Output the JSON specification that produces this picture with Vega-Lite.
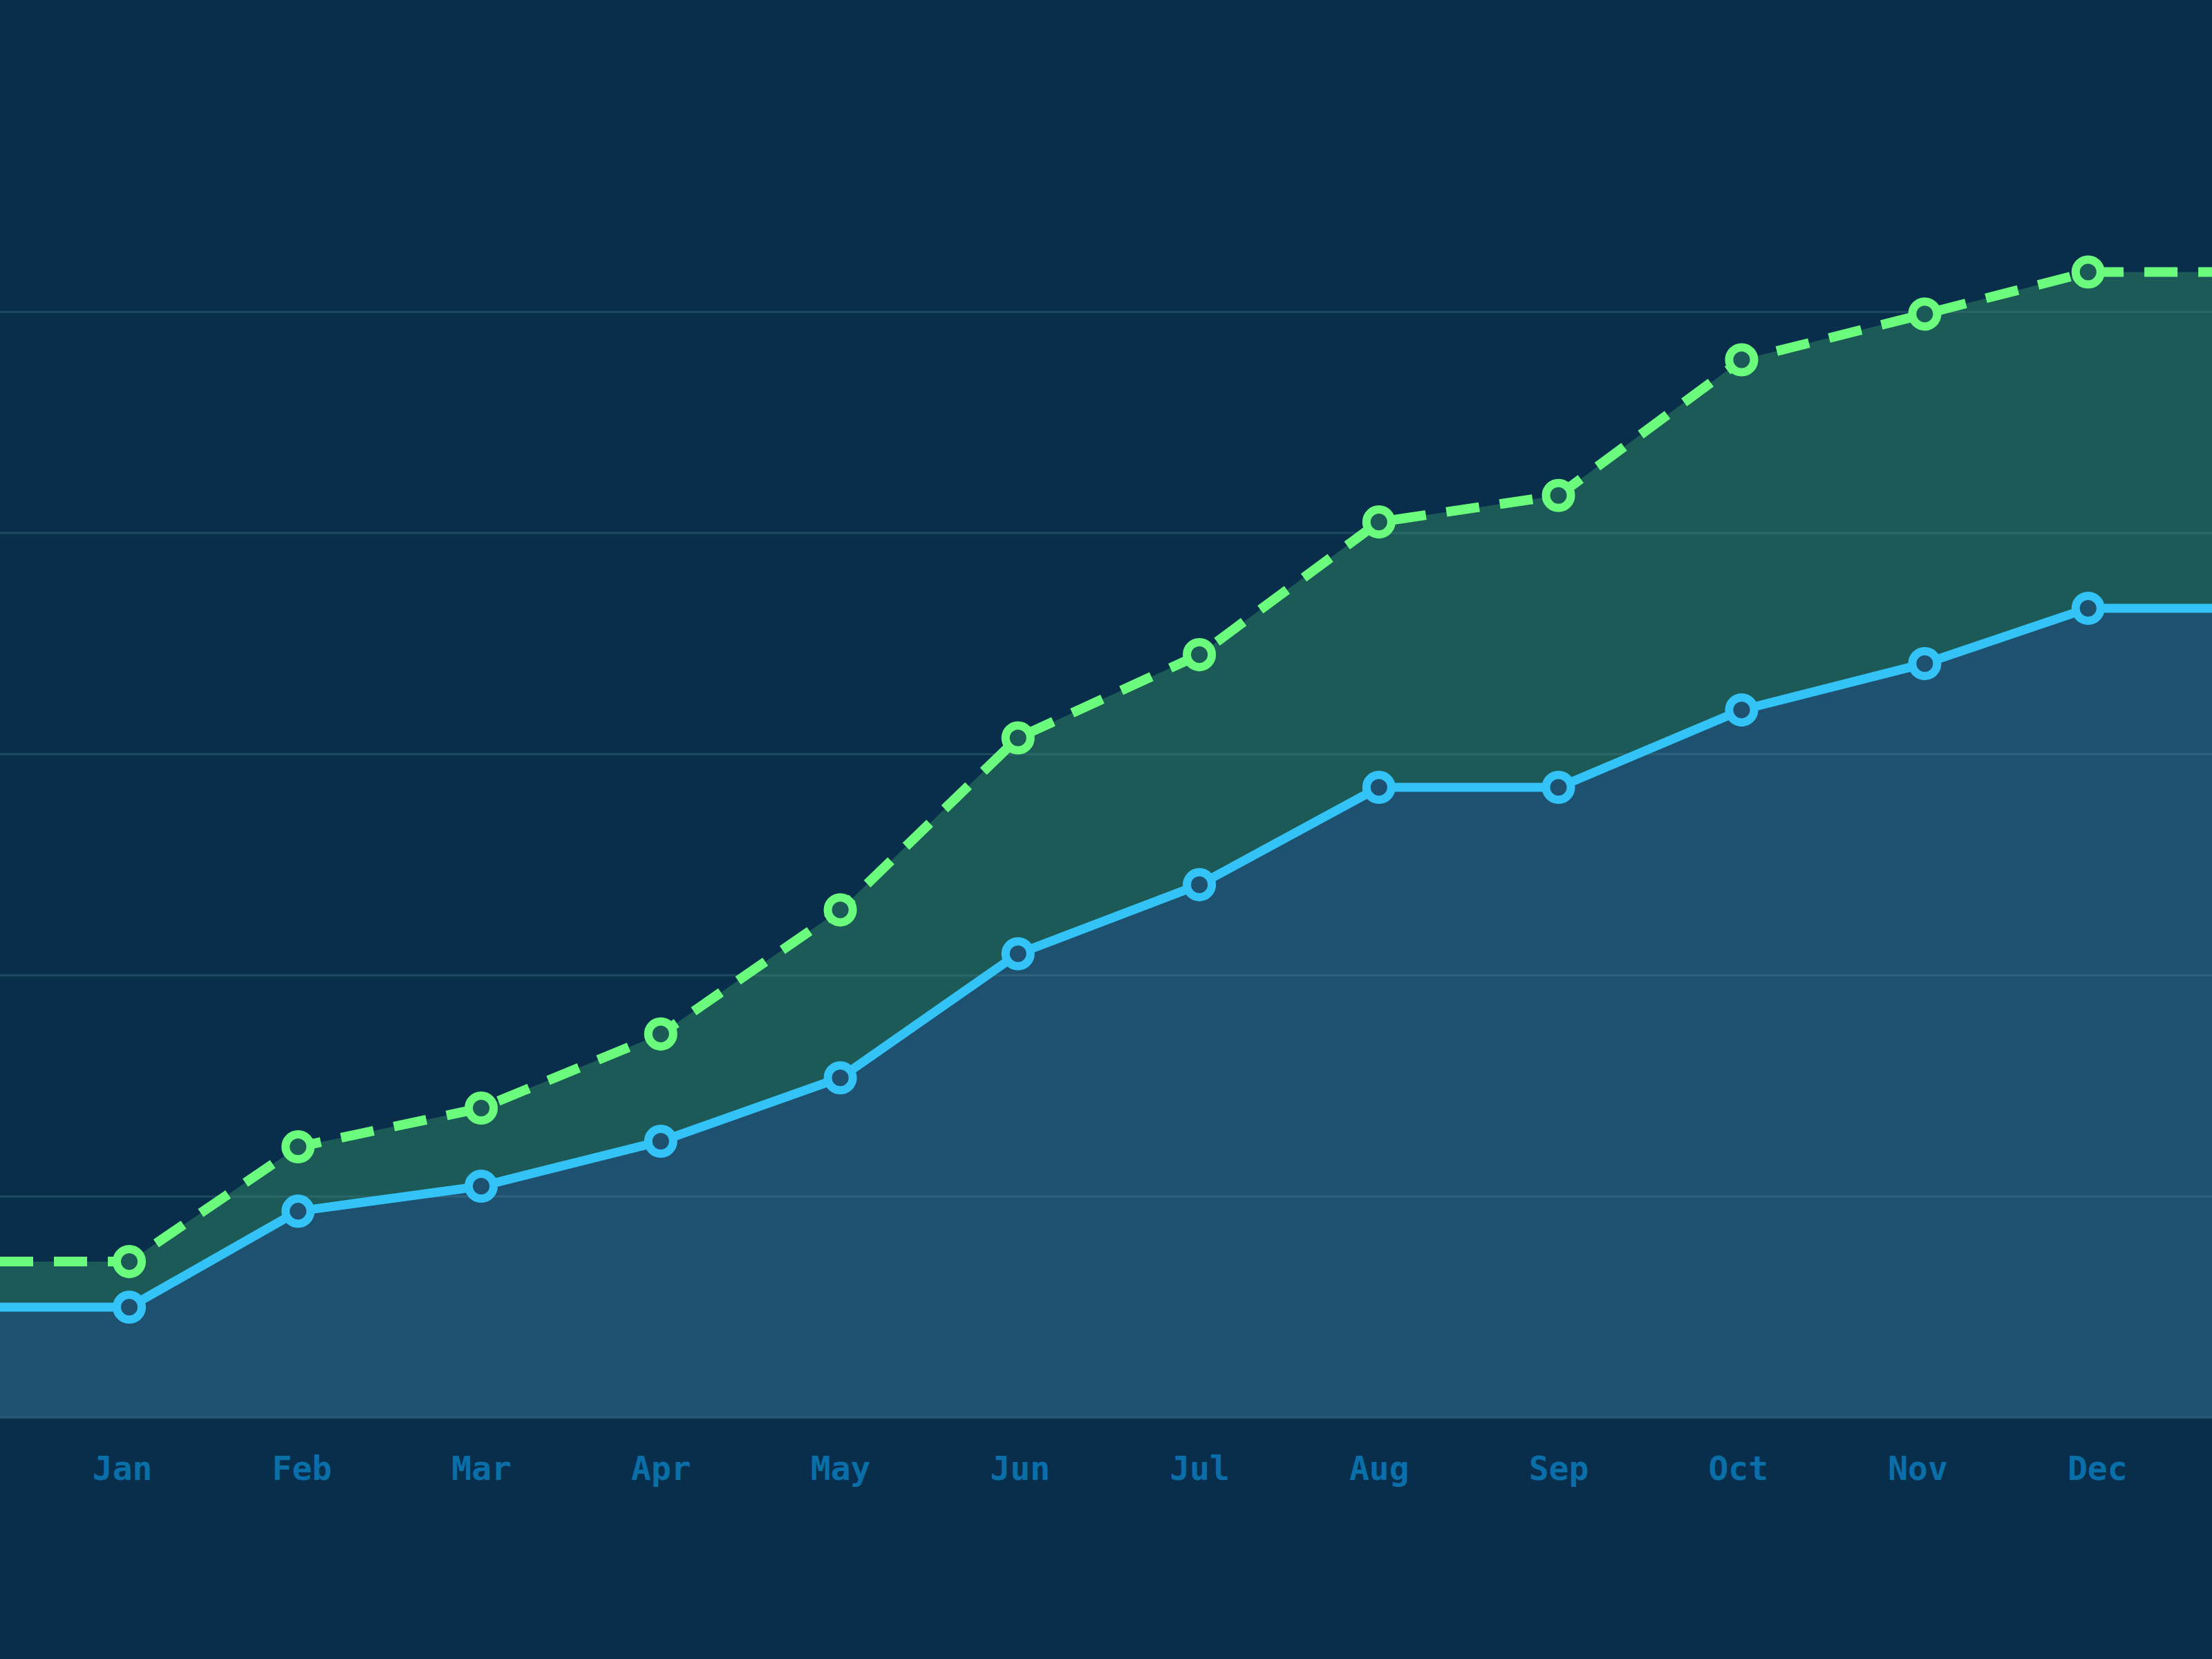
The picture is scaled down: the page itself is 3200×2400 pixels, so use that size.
{
  "$schema": "https://vega.github.io/schema/vega-lite/v6.json",
  "width": 3200,
  "height": 2051,
  "autosize": {"type": "none"},
  "padding": {"left": 0, "top": 0, "right": 0, "bottom": 349},
  "background": "#082e4b",
  "config": {"view": {"stroke": null}, "font": "DejaVu Sans Mono"},
  "datasets": {
    "series": [
      {"m": -0.68, "s": "upper", "v": 7.06, "pt": false},
      {"m": 0.04, "s": "upper", "v": 7.06, "pt": true},
      {"m": 0.98, "s": "upper", "v": 12.25, "pt": true},
      {"m": 2.0, "s": "upper", "v": 14.0, "pt": true},
      {"m": 3.0, "s": "upper", "v": 17.35, "pt": true},
      {"m": 4.0, "s": "upper", "v": 22.96, "pt": true},
      {"m": 4.99, "s": "upper", "v": 30.74, "pt": true},
      {"m": 6.0, "s": "upper", "v": 34.5, "pt": true},
      {"m": 7.0, "s": "upper", "v": 40.5, "pt": true},
      {"m": 8.0, "s": "upper", "v": 41.7, "pt": true},
      {"m": 9.02, "s": "upper", "v": 47.83, "pt": true},
      {"m": 10.04, "s": "upper", "v": 49.9, "pt": true},
      {"m": 10.95, "s": "upper", "v": 51.8, "pt": true},
      {"m": 11.64, "s": "upper", "v": 51.8, "pt": false},
      {"m": -0.68, "s": "lower", "v": 5.0, "pt": false},
      {"m": 0.04, "s": "lower", "v": 5.0, "pt": true},
      {"m": 0.98, "s": "lower", "v": 9.34, "pt": true},
      {"m": 2.0, "s": "lower", "v": 10.47, "pt": true},
      {"m": 3.0, "s": "lower", "v": 12.5, "pt": true},
      {"m": 4.0, "s": "lower", "v": 15.37, "pt": true},
      {"m": 4.99, "s": "lower", "v": 20.98, "pt": true},
      {"m": 6.0, "s": "lower", "v": 24.1, "pt": true},
      {"m": 7.0, "s": "lower", "v": 28.5, "pt": true},
      {"m": 8.0, "s": "lower", "v": 28.5, "pt": true},
      {"m": 9.02, "s": "lower", "v": 32.0, "pt": true},
      {"m": 10.04, "s": "lower", "v": 34.1, "pt": true},
      {"m": 10.95, "s": "lower", "v": 36.6, "pt": true},
      {"m": 11.64, "s": "lower", "v": 36.6, "pt": false}
    ],
    "grid": [{"g": 0}, {"g": 10}, {"g": 20}, {"g": 30}, {"g": 40}, {"g": 50}]
  },
  "layer": [
    {
      "data": {"name": "series"},
      "encoding": {
        "x": {"field": "m", "type": "quantitative", "scale": {"domain": [-0.68, 11.64], "nice": false, "zero": false},
          "axis": {"values": [0,1,2,3,4,5,6,7,8,9,10,11], "labelExpr": "['Jan','Feb','Mar','Apr','May','Jun','Jul','Aug','Sep','Oct','Nov','Dec'][datum.value]", "grid": false, "domain": false, "ticks": false, "tickSize": 0, "labelPadding": 51, "labelFontSize": 48, "labelColor": "#0a6fa8", "labelFont": "DejaVu Sans Mono", "labelFontWeight": "bold", "title": null, "labelOverlap": false, "labelFlush": false}},
        "y": {"field": "v", "type": "quantitative", "scale": {"domain": [0, 64.1], "nice": false}, "axis": null}
      },
      "layer": [
        {"transform": [{"filter": "datum.s === 'upper'"}], "mark": {"type": "area", "color": "#1b5a56", "opacity": 1}},
        {"transform": [{"filter": "datum.s === 'lower'"}], "mark": {"type": "area", "color": "#1e5170", "opacity": 1}}
      ]
    },
    {
      "data": {"name": "grid"},
      "mark": {"type": "rule", "color": "#4a8090", "opacity": 0.35, "strokeWidth": 3},
      "encoding": {"y": {"field": "g", "type": "quantitative", "scale": {"domain": [0, 64.1], "nice": false}, "axis": null}}
    },
    {
      "data": {"name": "series"},
      "encoding": {
        "x": {"field": "m", "type": "quantitative", "scale": {"domain": [-0.68, 11.64], "nice": false, "zero": false},
          "axis": {"values": [0,1,2,3,4,5,6,7,8,9,10,11], "labelExpr": "['Jan','Feb','Mar','Apr','May','Jun','Jul','Aug','Sep','Oct','Nov','Dec'][datum.value]", "grid": false, "domain": false, "ticks": false, "tickSize": 0, "labelPadding": 51, "labelFontSize": 48, "labelColor": "#0a6fa8", "labelFont": "DejaVu Sans Mono", "labelFontWeight": "bold", "title": null, "labelOverlap": false, "labelFlush": false}},
        "y": {"field": "v", "type": "quantitative", "scale": {"domain": [0, 64.1], "nice": false}, "axis": null}
      },
      "layer": [
        {"transform": [{"filter": "datum.s === 'upper'"}], "mark": {"type": "line", "color": "#6bfc7e", "strokeWidth": 14, "strokeDash": [48, 30]}},
        {"transform": [{"filter": "datum.s === 'lower'"}], "mark": {"type": "line", "color": "#33c3f7", "strokeWidth": 13}},
        {"transform": [{"filter": "datum.s === 'upper' && datum.pt"}], "mark": {"type": "point", "shape": "circle", "size": 1300, "filled": false, "fill": "#1b5a56", "fillOpacity": 1, "stroke": "#6bfc7e", "strokeWidth": 12, "opacity": 1}},
        {"transform": [{"filter": "datum.s === 'lower' && datum.pt"}], "mark": {"type": "point", "shape": "circle", "size": 1300, "filled": false, "fill": "#1e5170", "fillOpacity": 1, "stroke": "#33c3f7", "strokeWidth": 12, "opacity": 1}}
      ]
    }
  ]
}
